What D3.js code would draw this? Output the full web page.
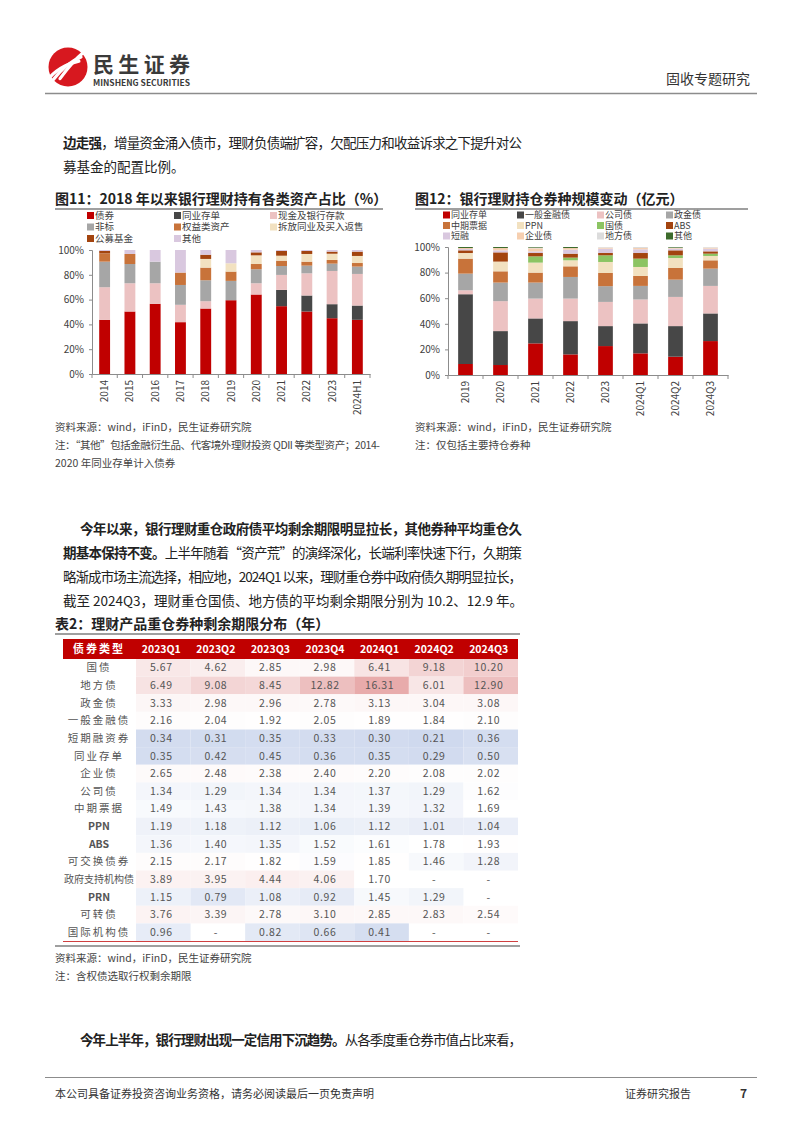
<!DOCTYPE html>
<html>
<head>
<meta charset="utf-8">
<script src="https://cdn.jsdelivr.net/npm/d3@7"></script>
<style>
  body { margin: 0; background: #fff; }
</style>
</head>
<body>
<div id="page"></div>
<script>
// ---- Figure 11 data (share of assets, %) ----
const leftYears = ["2014", "2015", "2016", "2017", "2018", "2019", "2020", "2021", "2022", "2023", "2024H1"];
const leftKeys = ["债券", "同业存单", "现金及银行存款", "非标", "权益类资产", "拆放同业及买入返售", "公募基金", "其他"];
const leftColors = ["#c00000", "#474747", "#ecc2c2", "#a6a6a6", "#c8733a", "#f2e1c0", "#a3440f", "#d9c8df"];
const bonds = [43.7, 50.4, 56.6, 41.8, 52.8, 59.5, 64.1, 54.7, 50.4, 45.0, 43.7];
const ncdLeft = [0, 0, 0, 0, 0, 0, 0, 13.1, 12.9, 11.3, 11.5];
const cashDeposits = [26.3, 22.8, 16.6, 14.0, 5.9, 0, 9.1, 12.1, 17.9, 26.8, 25.5];
const nonStandard = [20.6, 15.5, 17.4, 16.0, 16.9, 15.6, 11.3, 7.2, 6.2, 5.9, 5.9];
const equity = [6.7, 8.1, 0, 10.0, 10.2, 7.5, 4.2, 4.3, 3.2, 3.0, 2.9];
const interbankRepo = [0, 0, 0, 0, 7.0, 6.7, 7.0, 4.0, 6.2, 5.0, 5.7];
const publicFunds = [1.9, 0, 0, 0, 3.4, 0, 2.4, 3.8, 2.4, 1.7, 3.5];
const otherAssets = [0.8, 3.2, 9.4, 18.2, 3.8, 10.7, 1.9, 0.8, 0.8, 1.3, 1.3];

// ---- Figure 12 data (share of holdings, %) ----
const rightPeriods = ["2019", "2020", "2021", "2022", "2023", "2024Q1", "2024Q2", "2024Q3"];
const rightKeys = ["同业存单", "一般金融债", "公司债", "政金债", "中期票据", "PPN", "国债", "ABS", "短融", "企业债", "地方债", "其他"];
const rightColors = ["#c00000", "#474747", "#ecc2c2", "#a6a6a6", "#c8733a", "#f2e1c0", "#8cc463", "#a3440f", "#d9c8df", "#f6cfb0", "#dcdcdc", "#3d6b2c"];
const ncdRight = [8.6, 7.8, 24.7, 16.1, 22.6, 16.9, 14.3, 26.5];
const finBonds = [54.5, 26.5, 19.5, 26.0, 15.6, 23.4, 23.9, 21.6];
const corpBonds = [3.1, 23.4, 15.5, 17.6, 18.9, 18.7, 22.8, 21.5];
const policyBonds = [13.0, 14.5, 12.5, 16.9, 12.3, 10.6, 13.5, 13.5];
const mtn = [11.7, 8.8, 7.8, 8.3, 10.3, 7.8, 9.1, 6.5];
const ppn = [4.4, 7.6, 7.8, 4.7, 8.6, 7.0, 7.8, 3.4];
const treasury = [0, 0, 4.9, 2.1, 5.2, 6.5, 2.1, 1.8];
const abs = [2.1, 7.2, 2.6, 3.1, 1.8, 4.4, 3.9, 1.8];
const cp = [1.0, 1.6, 1.3, 3.1, 3.4, 2.9, 1.3, 2.1];
const enterpriseBonds = [0.8, 1.8, 2.4, 1.3, 0.8, 1.0, 0.5, 0.8];
const localGov = [0, 0, 0.5, 0, 0.5, 0.8, 0.3, 0.5];
const otherBonds = [0.8, 0.8, 0.5, 0.8, 0, 0, 0.5, 0];

// ---- Table 2 data (remaining maturity, years) ----
const quarters = ["2023Q1", "2023Q2", "2023Q3", "2023Q4", "2024Q1", "2024Q2", "2024Q3"];
const bondTypes = ["国债", "地方债", "政金债", "一般金融债", "短期融资券", "同业存单", "企业债", "公司债",
  "中期票据", "PPN", "ABS", "可交换债券", "政府支持机构债", "PRN", "可转债", "国际机构债"];
const maturities = [
  [5.67, 4.62, 2.85, 2.98, 6.41, 9.18, 10.20],
  [6.49, 9.08, 8.45, 12.82, 16.31, 6.01, 12.90],
  [3.33, 2.98, 2.96, 2.78, 3.13, 3.04, 3.08],
  [2.16, 2.04, 1.92, 2.05, 1.89, 1.84, 2.10],
  [0.34, 0.31, 0.35, 0.33, 0.30, 0.21, 0.36],
  [0.35, 0.42, 0.45, 0.36, 0.35, 0.29, 0.50],
  [2.65, 2.48, 2.38, 2.40, 2.20, 2.08, 2.02],
  [1.34, 1.29, 1.34, 1.34, 1.37, 1.29, 1.62],
  [1.49, 1.43, 1.38, 1.34, 1.39, 1.32, 1.69],
  [1.19, 1.18, 1.12, 1.06, 1.12, 1.01, 1.04],
  [1.36, 1.40, 1.35, 1.52, 1.61, 1.78, 1.93],
  [2.15, 2.17, 1.82, 1.59, 1.85, 1.46, 1.28],
  [3.89, 3.95, 4.44, 4.06, 1.70, null, null],
  [1.15, 0.79, 1.08, 0.92, 1.45, 1.29, null],
  [3.76, 3.39, 2.78, 3.10, 2.85, 2.83, 2.54],
  [0.96, null, 0.82, 0.66, 0.41, null, null]
];

const FONT = '"Noto Sans CJK SC", "Noto Sans", sans-serif';
const TEXT = "#333";

const svg = d3.select("#page").append("svg")
  .attr("width", 802)
  .attr("height", 1133)
  .style("font-family", FONT);

// ---------- header ----------
const logo = svg.append("g").attr("transform", "translate(68,67)");
logo.append("circle").attr("r", 19.5).attr("fill", "#d7181f");
[-7, 0, 7].forEach(off => {
  logo.append("path")
    .attr("d", `M${-15 + off},${13 - off * 0.2} Q${-2 + off},${-4 - off * 0.3} ${13 + off * 0.3},${-10 - off * 0.6}`)
    .attr("fill", "none").attr("stroke", "#fff").attr("stroke-width", 3.2).attr("stroke-linecap", "round");
});
svg.append("text").attr("x", 93).attr("y", 72)
  .style("font-size", "21px").style("font-weight", 700).style("fill", "#3a3a3a")
  .attr("textLength", 97).text("民生证券");
svg.append("text").attr("x", 93).attr("y", 86)
  .style("font-size", "8.5px").style("font-weight", 700).style("fill", "#3a3a3a")
  .attr("textLength", 97).attr("lengthAdjust", "spacingAndGlyphs").text("MINSHENG SECURITIES");
svg.append("text").attr("x", 750).attr("y", 84).attr("text-anchor", "end")
  .style("font-size", "14px").style("fill", TEXT).text("固收专题研究");
svg.append("line").attr("x1", 45).attr("x2", 757).attr("y1", 93.5).attr("y2", 93.5)
  .attr("stroke", "#8c8c8c").attr("stroke-width", 1.5);

// ---------- body text helper ----------
function textLine(x, y, parts, width, size) {
  const t = svg.append("text").attr("x", x).attr("y", y)
    .style("font-size", (size || 13.5) + "px").style("fill", "#222");
  if (width) t.attr("textLength", width).attr("lengthAdjust", "spacing");
  parts.forEach(([s, bold]) => {
    t.append("tspan").style("font-weight", bold ? 700 : 400).text(s);
  });
  return t;
}

textLine(63, 148, [["边走强", true], ["，增量资金涌入债市，理财负债端扩容，欠配压力和收益诉求之下提升对公", false]], 459);
textLine(63, 172, [["募基金的配置比例。", false]]);

// ---------- chart titles ----------
function chartTitle(x, y, x2, label) {
  svg.append("text").attr("x", x).attr("y", y)
    .style("font-size", "14px").style("font-weight", 700).style("fill", "#222").text(label);
  svg.append("line").attr("x1", x).attr("x2", x2).attr("y1", y + 5).attr("y2", y + 5)
    .attr("stroke", "#7f7f7f").attr("stroke-width", 1.5);
}
chartTitle(55, 204, 383, "图11：2018 年以来银行理财持有各类资产占比（%）");
chartTitle(415, 204, 748, "图12：银行理财持仓券种规模变动（亿元）");

// ---------- stacked bar chart helper ----------
function stackedChart(cfg) {
  const rows = cfg.cats.map((c, i) => {
    const o = { cat: c };
    cfg.keys.forEach((k, j) => { o[k] = cfg.series[j][i]; });
    return o;
  });
  const stacked = d3.stack().keys(cfg.keys)(rows);
  const color = d3.scaleOrdinal().domain(cfg.keys).range(cfg.colors);

  const x = d3.scaleBand().domain(cfg.cats).range([cfg.x0, cfg.x1])
    .paddingInner(cfg.pad).paddingOuter(cfg.pad / 2);
  const y = d3.scaleLinear().domain([0, 100]).range([cfg.y0, cfg.y1]);

  const g = svg.append("g");
  g.selectAll(".layer").data(stacked).enter().append("g")
    .attr("fill", d => color(d.key))
    .selectAll("rect").data(d => d).enter().append("rect")
    .attr("x", d => x(d.data.cat))
    .attr("width", x.bandwidth())
    .attr("y", d => y(d[1]))
    .attr("height", d => Math.max(0, y(d[0]) - y(d[1])));

  const yAxis = g.append("g").attr("transform", `translate(${cfg.x0},0)`)
    .call(d3.axisLeft(y).tickValues([0, 20, 40, 60, 80, 100]).tickFormat(d => d + "%").tickSize(3).tickPadding(5));
  yAxis.selectAll("text").style("font-size", "10px").style("fill", "#404040").style("font-family", FONT);
  yAxis.selectAll("line, path").attr("stroke", "#8c8c8c");

  const xAxis = g.append("g").attr("transform", `translate(0,${cfg.y0})`)
    .call(d3.axisBottom(x).tickSize(0).tickPadding(6));
  xAxis.select(".domain").attr("stroke", "#8c8c8c");
  xAxis.selectAll("text")
    .attr("transform", "rotate(-90)")
    .attr("x", -6).attr("y", 0).attr("dy", "0.35em")
    .style("text-anchor", "end")
    .style("font-size", "10px").style("fill", "#404040").style("font-family", FONT);
  // tick marks at band boundaries
  const edges = d3.range(cfg.cats.length + 1).map(i => cfg.x0 + i * x.step());
  g.selectAll(".edge").data(edges).enter().append("line")
    .attr("x1", d => d).attr("x2", d => d)
    .attr("y1", cfg.y0).attr("y2", cfg.y0 + 4)
    .attr("stroke", "#8c8c8c");

  // legend
  const lg = svg.append("g");
  cfg.keys.forEach((k, i) => {
    const col = i % cfg.legendCols.length;
    const row = Math.floor(i / cfg.legendCols.length);
    const lx = cfg.legendCols[col];
    const ly = cfg.legendRows[row];
    lg.append("rect").attr("x", lx).attr("y", ly - 3.5).attr("width", 7).attr("height", 7).attr("fill", color(k));
    lg.append("text").attr("x", lx + 8).attr("y", ly).attr("dy", "0.35em")
      .style("font-size", cfg.legendSize).style("fill", "#404040").text(k);
  });
}

stackedChart({
  cats: leftYears, keys: leftKeys, colors: leftColors,
  series: [bonds, ncdLeft, cashDeposits, nonStandard, equity, interbankRepo, publicFunds, otherAssets],
  x0: 92, x1: 370, y0: 374, y1: 250, pad: 0.57,
  legendCols: [87, 174, 270], legendRows: [215.5, 227, 238.5], legendSize: "9.5px"
});

stackedChart({
  cats: rightPeriods, keys: rightKeys, colors: rightColors,
  series: [ncdRight, finBonds, corpBonds, policyBonds, mtn, ppn, treasury, abs, cp, enterpriseBonds, localGov, otherBonds],
  x0: 448, x1: 728, y0: 375, y1: 247, pad: 0.58,
  legendCols: [443, 517, 597, 666], legendRows: [215, 225.5, 236], legendSize: "9px"
});

// ---------- sources ----------
function note(x, y, s) {
  return svg.append("text").attr("x", x).attr("y", y)
    .style("font-size", "10.5px").style("fill", "#444").text(s);
}
note(55, 431, "资料来源：wind，iFinD，民生证券研究院");
note(55, 449, "注：“其他”包括金融衍生品、代客境外理财投资 QDII 等类型资产；2014-").attr("textLength", 325);
note(55, 467, "2020 年同业存单计入债券");
note(415, 431, "资料来源：wind，iFinD，民生证券研究院");
note(415, 449, "注：仅包括主要持仓券种");

// ---------- paragraph 2 ----------
textLine(80, 534, [["今年以来，银行理财重仓政府债平均剩余期限明显拉长，其他券种平均重仓久", true]], 442);
textLine(63, 558, [["期基本保持不变。", true], ["上半年随着“资产荒”的演绎深化，长端利率快速下行，久期策", false]], 459);
textLine(63, 582, [["略渐成市场主流选择，相应地，2024Q1 以来，理财重仓券中政府债久期明显拉长，", false]], 459);
textLine(63, 606, [["截至 2024Q3，理财重仓国债、地方债的平均剩余期限分别为 10.2、12.9 年。", false]]);

// ---------- table ----------
chartTitle(55, 629, 520, "表2：理财产品重仓券种剩余期限分布（年）");

const tTop = 639, headH = 20, tBottom = 941;
const colX = d3.scaleBand().domain(quarters).range([136, 518]);
const rowY = d3.scaleBand().domain(bondTypes).range([tTop + headH, tBottom]);
const allVals = maturities.flat().filter(v => v != null);
const heat = d3.scaleLinear()
  .domain([d3.min(allVals), d3.median(allVals), d3.max(allVals)])
  .range(["#cfd9ee", "#ffffff", "#e8abab"]);

const tg = svg.append("g");
tg.append("rect").attr("x", 63).attr("y", tTop).attr("width", 455).attr("height", headH).attr("fill", "#c00000");
tg.append("text").attr("x", 99).attr("y", tTop + headH / 2).attr("dy", "0.35em").attr("text-anchor", "middle")
  .style("font-size", "11px").style("font-weight", 700).style("fill", "#fff").style("letter-spacing", "2px").text("债券类型");
tg.selectAll(".qh").data(quarters).enter().append("text")
  .attr("x", d => colX(d) + colX.bandwidth() / 2 - 2)
  .attr("y", tTop + headH / 2).attr("dy", "0.35em").attr("text-anchor", "middle")
  .style("font-size", "10.5px").style("font-weight", 700).style("fill", "#fff").text(d => d);

bondTypes.forEach((bt, r) => {
  const yy = rowY(bt);
  const latin = /^[A-Z]+$/.test(bt);
  const spacing = latin ? 0 : (bt.length > 5 ? 0 : 2);
  tg.append("text").attr("x", 99).attr("y", yy + rowY.bandwidth() / 2).attr("dy", "0.35em")
    .attr("text-anchor", "middle")
    .style("font-size", bt.length > 5 ? "10px" : "10.5px").style("fill", "#555")
    .style("letter-spacing", spacing + "px")
    .style("font-weight", latin ? 700 : 400)
    .text(bt);
  quarters.forEach((q, c) => {
    const v = maturities[r][c];
    if (v != null) {
      tg.append("rect").attr("x", colX(q)).attr("y", yy)
        .attr("width", colX.bandwidth()).attr("height", rowY.bandwidth())
        .attr("fill", heat(v));
    }
    tg.append("text").attr("x", colX(q) + colX.bandwidth() / 2 - 2)
      .attr("y", yy + rowY.bandwidth() / 2).attr("dy", "0.35em").attr("text-anchor", "middle")
      .style("font-size", "10.5px").style("fill", "#555").style("letter-spacing", "0.6px")
      .text(v == null ? "-" : v.toFixed(2));
  });
});
tg.append("line").attr("x1", 63).attr("x2", 518).attr("y1", tBottom + 0.5).attr("y2", tBottom + 0.5)
  .attr("stroke", "#d04040").attr("stroke-width", 1);
tg.append("line").attr("x1", 55).attr("x2", 520).attr("y1", 946).attr("y2", 946)
  .attr("stroke", "#7f7f7f").attr("stroke-width", 1.5);

note(55, 962, "资料来源：wind，iFinD，民生证券研究院");
note(55, 980, "注：含权债选取行权剩余期限");

// ---------- paragraph 3 ----------
textLine(80, 1045, [["今年上半年，银行理财出现一定信用下沉趋势。", true], ["从各季度重仓券市值占比来看，", false]], 442);

// ---------- footer ----------
svg.append("line").attr("x1", 45).attr("x2", 757).attr("y1", 1077.5).attr("y2", 1077.5)
  .attr("stroke", "#8c8c8c").attr("stroke-width", 1.2);
svg.append("text").attr("x", 55).attr("y", 1098).style("font-size", "11px").style("fill", TEXT)
  .text("本公司具备证券投资咨询业务资格，请务必阅读最后一页免责声明");
svg.append("text").attr("x", 625).attr("y", 1098).style("font-size", "11px").style("fill", TEXT).text("证券研究报告");
svg.append("text").attr("x", 740).attr("y", 1098).style("font-size", "12px").style("font-weight", 700).style("fill", TEXT).text("7");
</script>
</body>
</html>
